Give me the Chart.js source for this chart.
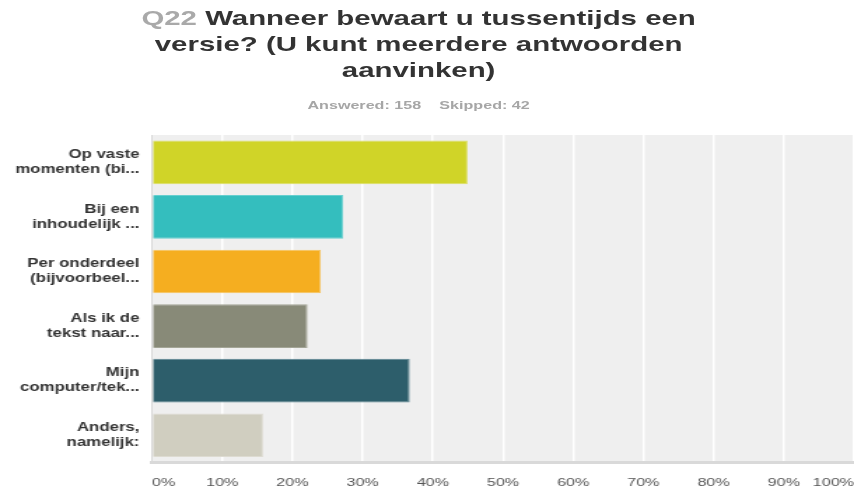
<!DOCTYPE html>
<html>
<head>
<meta charset="utf-8">
<script src="https://cdn.jsdelivr.net/npm/chart.js@4.4.1/dist/chart.umd.min.js"></script>
<style>
html,body{margin:0;padding:0;background:#fff;overflow:hidden;width:854px;height:491px;}
#stage{position:absolute;left:0;top:0;width:610px;height:491px;transform:scaleX(1.4);transform-origin:0 0;}
#title{position:absolute;left:0;top:5px;width:598px;text-align:center;font-family:"Liberation Sans",Arial,sans-serif;font-weight:bold;font-size:21px;line-height:26px;color:#333;}
#title .q{color:#a9a9a9;}
#sub{position:absolute;left:0;top:99px;width:598px;text-align:center;font-family:"Liberation Sans",Arial,sans-serif;font-weight:bold;font-size:11.5px;line-height:13px;color:#a6a6a6;}
#sub .gap{display:inline-block;width:13px;}
#wrap{position:absolute;left:0;top:0;width:610px;height:491px;}
</style>
</head>
<body>
<div id="stage">
  <div id="title"><span class="q">Q22</span> Wanneer bewaart u tussentijds een<br>versie? (U kunt meerdere antwoorden<br>aanvinken)</div>
  <div id="sub">Answered: 158<span class="gap"></span>Skipped: 42</div>
  <div id="wrap"><canvas id="c"></canvas></div>
</div>
<script>
const categories = [
  ["Op vaste", "momenten (bi..."],
  ["Bij een", "inhoudelijk ..."],
  ["Per onderdeel", "(bijvoorbeel..."],
  ["Als ik de", "tekst naar..."],
  ["Mijn", "computer/tek..."],
  ["Anders,", "namelijk:"]
];
const values = [44.94, 27.22, 24.05, 22.15, 36.71, 15.82];
const barColors = ["#D0D428", "#34BEBE", "#F5AE20", "#888A78", "#2D5E6B", "#D0CEC0"];
const barBorders = ["#DCDF63", "#66CFCF", "#F8C45C", "#A3A596", "#5A8490", "#DDDBD1"];
const tickLabels = ["0%", "10%", "20%", "30%", "40%", "50%", "60%", "70%", "80%", "90%", "100%"];

const plotBg = {
  id: 'plotBg',
  beforeDraw(chart) {
    const a = chart.chartArea, ctx = chart.ctx;
    ctx.save();
    ctx.fillStyle = '#efefef';
    ctx.fillRect(a.left, a.top, a.right - a.left, a.bottom - a.top);
    ctx.restore();
  }
};

new Chart(document.getElementById('c'), {
  type: 'bar',
  data: {
    labels: categories,
    datasets: [{
      data: values,
      backgroundColor: barColors,
      borderColor: barBorders,
      borderWidth: 1,
      barPercentage: 0.8,
      categoryPercentage: 1.0
    }]
  },
  options: {
    indexAxis: 'y',
    responsive: true,
    maintainAspectRatio: false,
    animation: false,
    layout: { padding: { top: 135, left: 0, right: 0, bottom: 0 } },
    plugins: { legend: { display: false }, tooltip: { enabled: false }, title: { display: false } },
    scales: {
      x: {
        min: 0, max: 100,
        afterFit(scale) { scale.height = 28.5; scale.paddingLeft = 0; scale.paddingRight = 0; },
        grid: {
          drawTicks: false,
          color: (ctx) => ctx.index === 0 ? 'rgba(0,0,0,0)' : '#ffffff',
          lineWidth: 1.5
        },
        border: { display: true, color: '#d9d9d9', width: 3 },
        ticks: {
          stepSize: 10,
          align: 'inner',
          padding: 13,
          color: '#555',
          font: { family: '"Liberation Sans", Arial, sans-serif', size: 11.5 },
          callback: (v, i) => tickLabels[i]
        }
      },
      y: {
        afterFit(scale) { scale.width = 108.6; },
        grid: { display: false, drawTicks: false },
        border: { display: true, color: '#dadada', width: 1 },
        ticks: {
          padding: 9,
          color: '#333',
          font: { family: '"Liberation Sans", Arial, sans-serif', size: 12, weight: 'bold', lineHeight: 1.25 }
        }
      }
    }
  },
  plugins: [plotBg]
});
</script>
</body>
</html>
